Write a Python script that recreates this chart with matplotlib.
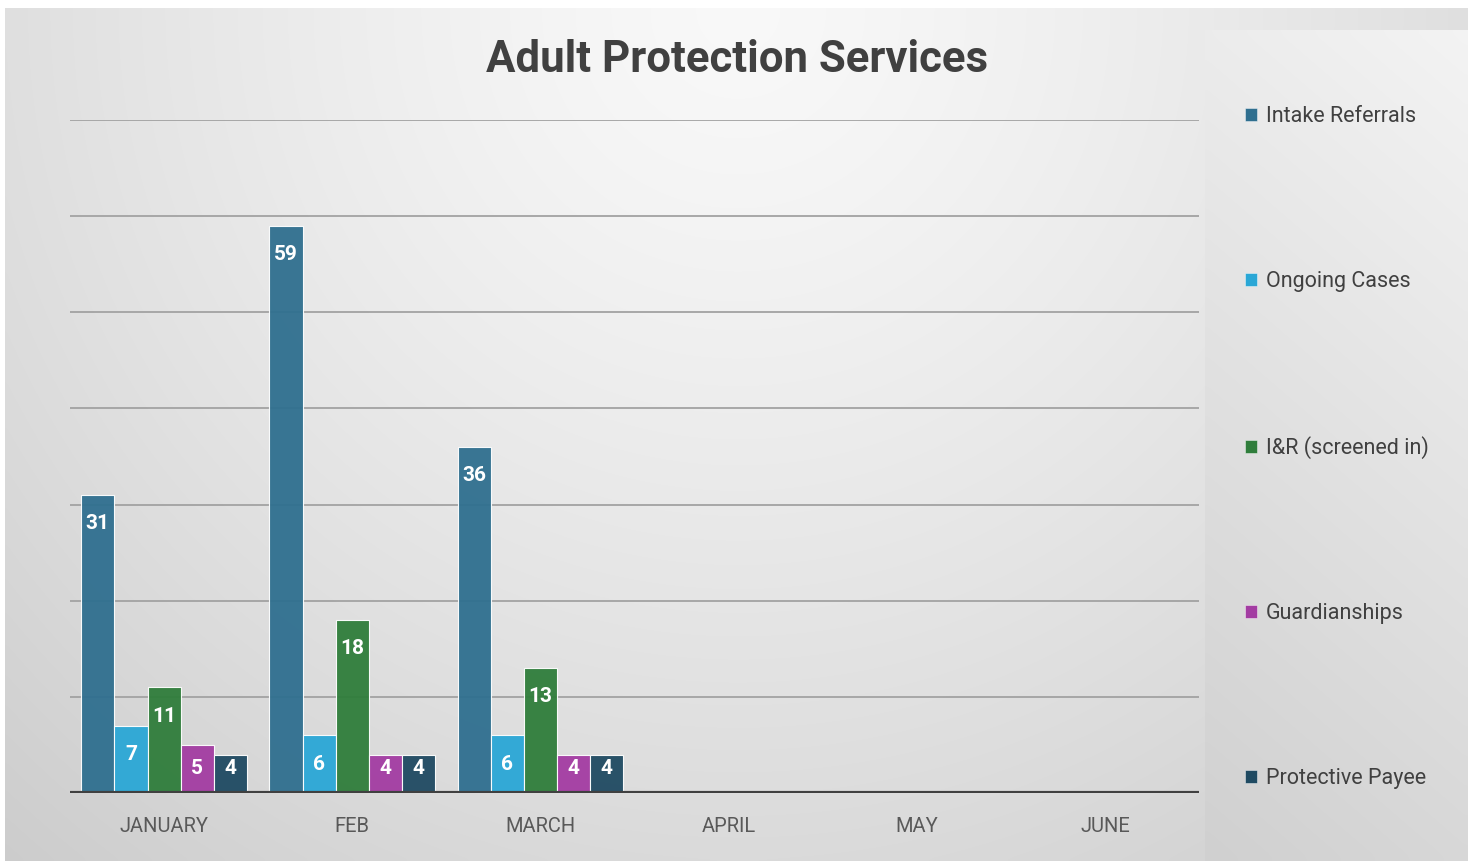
import numpy as np
import matplotlib
matplotlib.use("Agg")
import matplotlib.pyplot as plt
from matplotlib.patches import Patch

months = ["JANUARY", "FEB", "MARCH", "APRIL", "MAY", "JUNE"]
series_names = ["Intake Referrals", "Ongoing Cases", "I&R (screened in)", "Guardianships", "Protective Payee"]
intake = [31, 59, 36, None, None, None]
ongoing = [7, 6, 6, None, None, None]
ir_screened = [11, 18, 13, None, None, None]
guardianships = [5, 4, 4, None, None, None]
payee = [4, 4, 4, None, None, None]
series_values = [intake, ongoing, ir_screened, guardianships, payee]
colors = ["#2f6f8f", "#2aa7d6", "#2f7d3b", "#a33ca2", "#1f4a62"]

W, H = 1476, 861
fig = plt.figure(figsize=(W / 100, H / 100), dpi=100)
fig.patch.set_facecolor("white")

# background gradient panel
bg = fig.add_axes([5 / W, 0, (1468 - 5) / W, (861 - 8) / H], zorder=-10)
ny, nx = 200, 400
yy, xx = np.mgrid[0:ny, 0:nx]
xn = xx / nx
yn = yy / ny
d = np.sqrt(((xn - 0.5) / 0.75) ** 2 + ((yn - 0.0) / 1.3) ** 2)
val = 0.975 - 0.17 * np.clip(d, 0, 1.2) ** 1.3
img = np.dstack([val, val, val])
bg.imshow(img, aspect="auto", extent=[0, 1, 1, 0], interpolation="bicubic")
# legend side panel
px0 = (1205 - 5) / (1468 - 5)
py0 = (30 - 8) / (861 - 8)
gy, gx = np.mgrid[0:100, 0:50]
pval = 0.955 - 0.11 * (gy / 100) - 0.03 * (1 - gx / 50)
bg.imshow(np.dstack([pval, pval, pval]), aspect="auto", extent=[px0, 1, 1, py0], interpolation="bicubic")
bg.set_xlim(0, 1)
bg.set_ylim(1, 0)
bg.axis("off")

ax = fig.add_axes([70 / W, (H - 793) / H, (1199 - 70) / W, (793 - 120) / H])
ax.patch.set_alpha(0)
ax.set_ylim(0, 70)
ax.set_xlim(-0.5, len(months) - 0.5)

n = len(series_names)
group_w = 0.88
bw = group_w / n
x = np.arange(len(months))
for i, (name, vals, c) in enumerate(zip(series_names, series_values, colors)):
    xs = [xi - group_w / 2 + bw * (i + 0.5) for xi, v in zip(x, vals) if v is not None]
    vs = [v for v in vals if v is not None]
    ax.bar(xs, vs, width=bw, color=c, alpha=0.95, edgecolor=(1, 1, 1, 0.35), linewidth=0.8, zorder=3, label=name)
    for xi, v in zip(xs, vs):
        ypos = max(v - 3.0, 2.55)
        ax.text(xi, ypos, str(v), ha="center", va="center", color="white",
                fontsize=15, fontweight="bold", family="Roboto", zorder=5)

for gv in range(10, 80, 10):
    ax.axhline(gv, color="#a2a2a2", linewidth=1.3, zorder=1)
ax.axhline(0, color="#404040", linewidth=3, zorder=6)

for s in ax.spines.values():
    s.set_visible(False)
ax.set_yticks([])
ax.set_xticks(x)
ax.set_xticklabels(months, fontsize=14.5, color="#595959", family="Roboto")
ax.tick_params(axis="x", length=0, pad=17)

fig.text(737 / W, 1 - 60 / H, "Adult Protection Services", ha="center", va="center",
         fontsize=31.5, fontweight="bold", color="#404040", family="Roboto", fontstretch="condensed")

handles = [Patch(facecolor=c, edgecolor=(1, 1, 1, 0.5), linewidth=0.6) for c in colors]
leg = fig.legend(handles, series_names, loc="upper left", bbox_to_anchor=(1226 / W, 1 - 87 / H),
                 frameon=False, handlelength=0.55, handleheight=0.55,
                 handletextpad=0.4, labelspacing=6.69, prop={"family": "Roboto", "size": 15.5})
for t in leg.get_texts():
    t.set_color("#404040")

fig.savefig("out.png", dpi=100)
